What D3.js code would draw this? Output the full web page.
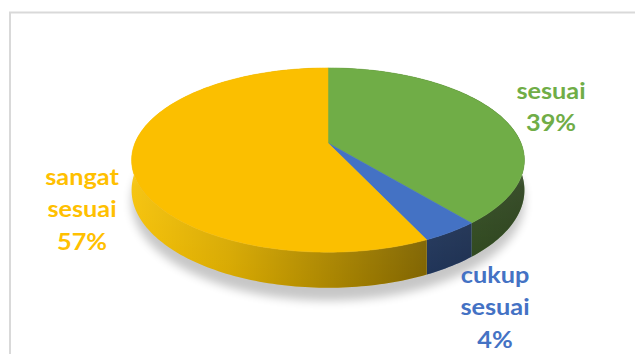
<!DOCTYPE html>
<html lang="en">
  <head>
    <meta charset="utf-8"/>
    <script src="https://d3js.org/d3.v7.min.js"></script>
    <style>
      body { margin: 0; background: #fff; }
    </style>
  </head>
  <body>
    <svg id="svg_main"></svg>
    <script>
      const width = 635;
      const height = 354;

      // chart data
      const categories = ["sesuai", "cukup sesuai", "sangat sesuai"];
      const values = [39, 4, 57];
      const topColors = ["#70AD47", "#4472C4", "#FBBF00"];
      const sideColors = ["#5d9339", "#3a62a8", "#f5c000"];
      const labelLines = [["sesuai", "39%"], ["cukup", "sesuai", "4%"], ["sangat", "sesuai", "57%"]];
      const labelPos = [[551, 99], [495, 283], [82, 185]];

      // pie geometry (projected cylinder)
      const cx = 328, cy = 143, rx = 193, ry = 89, persp = 0.185, depth = 29;

      function proj(a, z) {
        let u = Math.sin(a), v = -Math.cos(a);
        let s = 1 / (1 - persp * v);
        return [cx + rx * u * s, cy + ry * v * s + depth * z * s];
      }
      function arcPts(a0, a1, z) {
        let n = Math.max(4, Math.ceil(Math.abs(a1 - a0) / 0.02));
        return d3.range(n + 1).map(i => proj(a0 + (a1 - a0) * i / n, z));
      }

      let svg = d3.select("#svg_main")
          .attr("width", width)
          .attr("height", height);

      let defs = svg.append("defs");
      defs.append("filter").attr("id", "blur")
          .attr("x", "-20%").attr("y", "-20%").attr("width", "140%").attr("height", "140%")
        .append("feGaussianBlur").attr("stdDeviation", 5);

      // dark shading across the side wall
      let shade = defs.append("linearGradient").attr("id", "sideShade")
          .attr("gradientUnits", "userSpaceOnUse")
          .attr("x1", 130).attr("y1", 0).attr("x2", 525).attr("y2", 0);
      [[0, 0], [0.25, 0.12], [0.5, 0.3], [0.75, 0.48], [1, 0.58]].forEach(s => {
        shade.append("stop").attr("offset", s[0]).attr("stop-color", "#000").attr("stop-opacity", s[1]);
      });
      // light rim on the top edge of the wall
      let rim = defs.append("linearGradient").attr("id", "rimLight")
          .attr("x1", 0).attr("y1", 0).attr("x2", 0).attr("y2", 1);
      [[0, 0.35], [0.3, 0.08], [1, 0]].forEach(s => {
        rim.append("stop").attr("offset", s[0]).attr("stop-color", "#fff").attr("stop-opacity", s[1]);
      });

      // chart area border
      svg.append("rect")
          .attr("x", 10).attr("y", 12.5)
          .attr("width", 640).attr("height", 360)
          .attr("fill", "#fff")
          .attr("stroke", "#d9d9d9")
          .attr("stroke-width", 2);

      let pie = d3.pie().sort(null).startAngle(0).endAngle(2 * Math.PI);
      let arcs = pie(values);
      let line = d3.line();

      // shadow
      svg.append("path")
          .attr("d", line(arcPts(0, 2 * Math.PI, 1.25)) + "Z")
          .attr("transform", "translate(0,4)")
          .attr("fill", "#000")
          .attr("opacity", 0.22)
          .attr("filter", "url(#blur)");

      // side walls, back ones first
      let walls = arcs.map((d, i) => ({d: d, i: i}))
          .sort((a, b) => d3.max([a.d.startAngle, a.d.endAngle], x => -Math.cos(x)) - d3.max([b.d.startAngle, b.d.endAngle], x => -Math.cos(x)));

      walls.forEach(w => {
        let pts = arcPts(w.d.startAngle, w.d.endAngle, 0)
            .concat(arcPts(w.d.endAngle, w.d.startAngle, 1));
        let g = svg.append("g");
        g.append("path").attr("d", line(pts) + "Z").attr("fill", sideColors[w.i]);
        g.append("path").attr("d", line(pts) + "Z").attr("fill", "url(#sideShade)");
      });

      // rim light band on whole wall
      let wallAll = arcPts(Math.PI / 2, 3 * Math.PI / 2, 0).concat(arcPts(3 * Math.PI / 2, Math.PI / 2, 1));
      svg.append("path").attr("d", line(wallAll) + "Z").attr("fill", "url(#rimLight)");

      // top faces
      arcs.forEach((d, i) => {
        let pts = [proj(0, 0).map((p, k) => k ? cy : cx)].concat(arcPts(d.startAngle, d.endAngle, 0));
        svg.append("path")
            .attr("d", line(pts) + "Z")
            .attr("fill", topColors[i])
            .attr("stroke", topColors[i])
            .attr("stroke-width", 0.5);
      });

      // labels
      labelLines.forEach((lines, i) => {
        let t = svg.append("text")
            .attr("transform", "translate(" + labelPos[i][0] + "," + labelPos[i][1] + ") scale(1.15,1)")
            .attr("text-anchor", "middle")
            .attr("font-family", "Lato, 'Open Sans', sans-serif")
            .attr("font-weight", "bold")
            .attr("font-size", 22)
            .attr("fill", i == 2 ? "#FFC000" : topColors[i]);
        lines.forEach((s, k) => {
          t.append("tspan").attr("x", 0).attr("y", k * 32.5).text(s);
        });
      });
    </script>
  </body>
</html>
